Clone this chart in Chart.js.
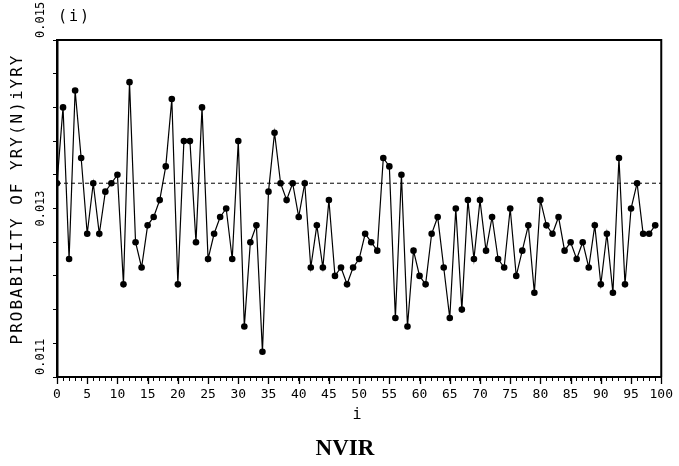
<!DOCTYPE html>
<html>
<head>
<meta charset="utf-8">
<script src="https://cdn.jsdelivr.net/npm/chart.js@4.4.1/dist/chart.umd.min.js"></script>
<style>
  html, body { margin: 0; padding: 0; background: #fff; }
  #wrap { position: relative; width: 679px; height: 466px; }
  #caption {
    position: absolute; left: 0; top: 436px; width: 690px;
    text-align: center; font: bold 23px "Liberation Serif", "Times New Roman", serif;
    line-height: 23px; color: #000;
  }
</style>
</head>
<body>
<div id="wrap">
  <canvas id="c" width="679" height="466"></canvas>
  <div id="caption">NVIR</div>
</div>
<script>
// Index i of each observation (0..99)
const indices = Array.from({ length: 100 }, (_, k) => k);

// Probability at each index
const probability = [
  0.0133, 0.0142, 0.0124, 0.0144, 0.0136, 0.0127, 0.0133, 0.0127, 0.0132, 0.0133,
  0.0134, 0.0121, 0.0145, 0.0126, 0.0123, 0.0128, 0.0129, 0.0131, 0.0135, 0.0143,
  0.0121, 0.0138, 0.0138, 0.0126, 0.0142, 0.0124, 0.0127, 0.0129, 0.0130, 0.0124,
  0.0138, 0.0116, 0.0126, 0.0128, 0.0113, 0.0132, 0.0139, 0.0133, 0.0131, 0.0133,
  0.0129, 0.0133, 0.0123, 0.0128, 0.0123, 0.0131, 0.0122, 0.0123, 0.0121, 0.0123,
  0.0124, 0.0127, 0.0126, 0.0125, 0.0136, 0.0135, 0.0117, 0.0134, 0.0116, 0.0125,
  0.0122, 0.0121, 0.0127, 0.0129, 0.0123, 0.0117, 0.0130, 0.0118, 0.0131, 0.0124,
  0.0131, 0.0125, 0.0129, 0.0124, 0.0123, 0.0130, 0.0122, 0.0125, 0.0128, 0.0120,
  0.0131, 0.0128, 0.0127, 0.0129, 0.0125, 0.0126, 0.0124, 0.0126, 0.0123, 0.0128,
  0.0121, 0.0127, 0.0120, 0.0136, 0.0121, 0.0130, 0.0133, 0.0127, 0.0127, 0.0128
];

// Horizontal reference level (dashed)
const referenceLevel = 0.0133;

// Axis ranges and ticks
const xRange = [0, 100];
const yRange = [0.011, 0.015];
const yTickMarks = [0.011, 0.0114, 0.0118, 0.0122, 0.0126, 0.013, 0.0134, 0.0138, 0.0142, 0.0146, 0.015];
const yLabelValues = [0.011, 0.013, 0.015];
const yLabelTexts = ['0.011', '0.013', '0.015'];

const yTitle = 'PROBABILITY OF YRY(N)iYRY';
const xTitle = 'i';
const cornerTitle = '(i)';

const MONO = '"DejaVu Sans Mono", monospace';

const decorations = {
  id: 'decorations',
  afterDraw(chart) {
    const { ctx, chartArea: a, scales: { x, y } } = chart;
    ctx.save();
    ctx.strokeStyle = '#000';
    ctx.fillStyle = '#000';

    // top and right frame
    ctx.lineWidth = 2;
    ctx.beginPath();
    ctx.moveTo(a.left, a.top);
    ctx.lineTo(a.right, a.top);
    ctx.lineTo(a.right, a.bottom);
    ctx.stroke();

    // longer ticks every 5 along i
    ctx.lineWidth = 1.3;
    for (let v = xRange[0]; v <= xRange[1]; v += 5) {
      const px = Math.round(x.getPixelForValue(v)) + 0.5;
      ctx.beginPath();
      ctx.moveTo(px, a.bottom);
      ctx.lineTo(px, a.bottom + 7);
      ctx.stroke();
    }

    // rotated y tick labels
    ctx.font = '12px ' + MONO;
    ctx.textBaseline = 'middle';
    ctx.textAlign = 'left';
    const last = yLabelValues.length - 1;
    yLabelValues.forEach((v, k) => {
      const py = y.getPixelForValue(v);
      const txt = yLabelTexts[k];
      const w = ctx.measureText(txt).width;
      const start = (k === 0 || k === last) ? py - 2 : py + w / 2;
      ctx.save();
      ctx.translate(41, start);
      ctx.rotate(-Math.PI / 2);
      ctx.fillText(txt, 0, 0);
      ctx.restore();
    });

    // y axis title
    ctx.save();
    ctx.font = '16px ' + MONO;
    ctx.letterSpacing = '2px';
    ctx.textAlign = 'center';
    ctx.translate(18, 199);
    ctx.rotate(-Math.PI / 2);
    ctx.fillText(yTitle, 0, 0);
    ctx.restore();

    // x axis title
    ctx.font = '15px ' + MONO;
    ctx.textAlign = 'center';
    ctx.fillText(xTitle, x.getPixelForValue(50) - 2, a.bottom + 38);

    // corner label
    ctx.font = '15px ' + MONO;
    ctx.letterSpacing = '2px';
    ctx.textAlign = 'left';
    ctx.fillText(cornerTitle, a.left + 1, 17);

    ctx.restore();
  }
};

new Chart(document.getElementById('c'), {
  type: 'line',
  data: {
    datasets: [
      {
        data: indices.map((i, k) => ({ x: i, y: probability[k] })),
        borderColor: '#000',
        borderWidth: 1.2,
        pointRadius: 3.3,
        pointBackgroundColor: '#000',
        pointBorderWidth: 0,
        tension: 0,
        order: 1
      },
      {
        data: [{ x: xRange[0], y: referenceLevel }, { x: xRange[1], y: referenceLevel }],
        borderColor: '#000',
        borderWidth: 1,
        borderDash: [4, 3],
        pointRadius: 0,
        order: 2
      }
    ]
  },
  options: {
    responsive: false,
    animation: false,
    layout: { padding: { top: 40, right: 17, left: 0, bottom: 0 } },
    plugins: { legend: { display: false }, tooltip: { enabled: false } },
    scales: {
      x: {
        type: 'linear',
        min: xRange[0],
        max: xRange[1],
        afterFit(s) { s.height = 89; },
        border: { display: true, color: '#000', width: 2 },
        grid: { drawOnChartArea: false, drawTicks: true, tickLength: 4, tickColor: '#000', tickWidth: 1 },
        ticks: {
          stepSize: 1, autoSkip: false, maxRotation: 0, minRotation: 0, padding: 6,
          color: '#000', font: { family: MONO, size: 13 },
          callback: v => (v % 5 === 0 ? String(v) : '')
        }
      },
      y: {
        type: 'linear',
        min: yRange[0],
        max: yRange[1],
        afterFit(s) { s.width = 57; },
        afterBuildTicks(s) { s.ticks = yTickMarks.map(v => ({ value: v })); },
        border: { display: true, color: '#000', width: 2.5 },
        grid: { drawOnChartArea: false, drawTicks: true, tickLength: 4, tickColor: '#000', tickWidth: 1 },
        ticks: { display: false }
      }
    }
  },
  plugins: [decorations]
});
</script>
</body>
</html>
